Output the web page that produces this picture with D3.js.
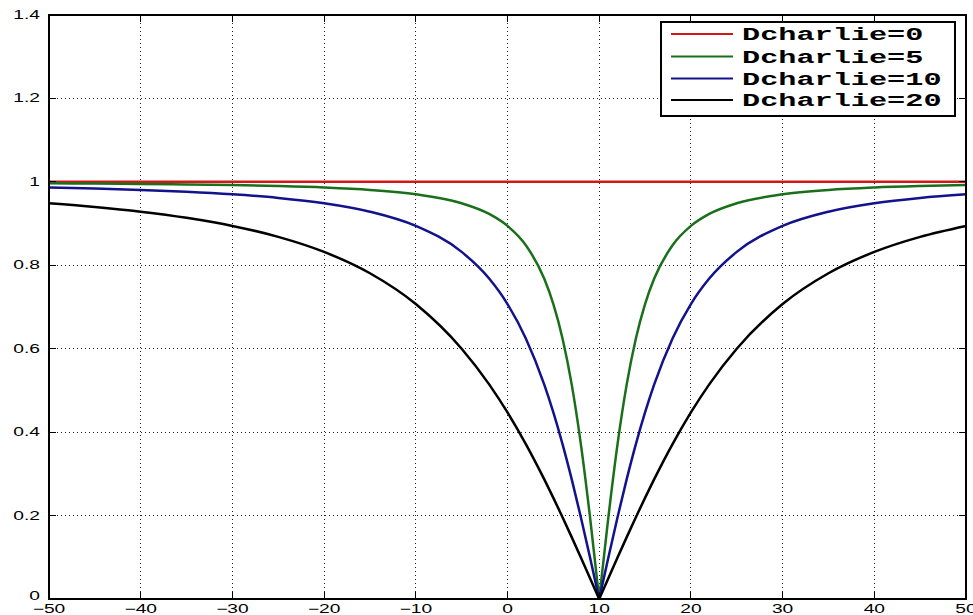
<!DOCTYPE html>
<html><head><meta charset="utf-8">
<script src="https://cdn.jsdelivr.net/npm/d3@7"></script>
<style>body{margin:0;background:#fff}svg{display:block}</style>
</head><body><svg id="c" width="973" height="615"></svg>
<script>
const xValues = [-50,-45,-40,-35,-30,-25,-20,-15,-10,-5,-2,0,2,4,5,6,7,8,9,10,11,12,13,14,15,16,18,20,22,25,30,35,40,45,50];
const dcharlie0 = xValues.map(() => 1);
const dcharlie5 = [0.9965,0.9959,0.9950,0.9939,0.9923,0.9899,0.9864,0.9806,0.9701,0.9487,0.9231,0.8944,0.8480,0.7682,0.7071,0.6247,0.5145,0.3714,0.1961,0,0.1961,0.3714,0.5145,0.6247,0.7071,0.7682,0.8480,0.8944,0.9231,0.9487,0.9701,0.9806,0.9864,0.9899,0.9923];
const dcharlie10 = [0.9864,0.9839,0.9806,0.9762,0.9701,0.9615,0.9487,0.9285,0.8944,0.8321,0.7682,0.7071,0.6247,0.5145,0.4472,0.3714,0.2873,0.1961,0.0995,0,0.0995,0.1961,0.2873,0.3714,0.4472,0.5145,0.6247,0.7071,0.7682,0.8321,0.8944,0.9285,0.9487,0.9615,0.9701];
const dcharlie20 = [0.9487,0.9398,0.9285,0.9138,0.8944,0.8682,0.8321,0.7809,0.7071,0.6000,0.5145,0.4472,0.3714,0.2873,0.2425,0.1961,0.1483,0.0995,0.0499,0,0.0499,0.0995,0.1483,0.1961,0.2425,0.2873,0.3714,0.4472,0.5145,0.6000,0.7071,0.7809,0.8321,0.8682,0.8944];
const seriesNames = ["Dcharlie=0","Dcharlie=5","Dcharlie=10","Dcharlie=20"];
const seriesColors = ["#d01818","#1a701a","#12128c","#000000"];
const xTicks = [-50,-40,-30,-20,-10,0,10,20,30,40,50];
const yTicks = [0,0.2,0.4,0.6,0.8,1,1.2,1.4];
const yTickLabels = ["0","0.2","0.4","0.6","0.8","1","1.2","1.4"];

const series = [dcharlie0, dcharlie5, dcharlie10, dcharlie20];
const W = 973, H = 615;
const m = {left: 49, right: 966, top: 15, bottom: 599};
const svg = d3.select("#c");
svg.append("rect").attr("width", W).attr("height", H).attr("fill", "#fff");
const x = d3.scaleLinear().domain([-50, 50]).range([m.left, m.right]);
const y = d3.scaleLinear().domain([0, 1.4]).range([m.bottom, m.top]);
const SX = 1.6;

// grid
const grid = svg.append("g");
xTicks.slice(1, -1).forEach(t => {
  grid.append("line").attr("x1", x(t)).attr("x2", x(t)).attr("y1", m.top).attr("y2", m.bottom)
    .attr("stroke", "#222").attr("stroke-width", 1).attr("stroke-dasharray", "1,3").attr("shape-rendering", "crispEdges");
});
yTicks.slice(1, -1).forEach(t => {
  grid.append("line").attr("y1", y(t)).attr("y2", y(t)).attr("x1", m.left).attr("x2", m.right)
    .attr("stroke", "#222").attr("stroke-width", 1).attr("stroke-dasharray", "1,3").attr("shape-rendering", "crispEdges");
});

// curves: split at the minimum for sharp tip
const line = d3.line().x(d => x(d[0])).y(d => y(d[1])).curve(d3.curveMonotoneX);
const minIdx = xValues.indexOf(10);
series.forEach((vals, i) => {
  const pts = xValues.map((xv, k) => [xv, vals[k]]);
  const parts = i === 0 ? [pts] : [pts.slice(0, minIdx + 1), pts.slice(minIdx)];
  parts.forEach(p => {
    svg.append("path").attr("d", line(p)).attr("fill", "none")
      .attr("stroke", seriesColors[i]).attr("stroke-width", 2.5).attr("stroke-linejoin", "round");
  });
});

// axes with inward ticks (box)
const axes = svg.append("g");
const tl = 7;
axes.append("rect").attr("x", m.left).attr("y", m.top).attr("width", m.right - m.left).attr("height", m.bottom - m.top)
  .attr("fill", "none").attr("stroke", "#000").attr("stroke-width", 1.2).attr("shape-rendering", "crispEdges");
xTicks.forEach(t => {
  axes.append("line").attr("x1", x(t)).attr("x2", x(t)).attr("y1", m.bottom).attr("y2", m.bottom - tl).attr("stroke", "#000").attr("shape-rendering", "crispEdges");
  axes.append("line").attr("x1", x(t)).attr("x2", x(t)).attr("y1", m.top).attr("y2", m.top + tl).attr("stroke", "#000").attr("shape-rendering", "crispEdges");
  const g = axes.append("g").attr("transform", `translate(${x(t)},${m.bottom + 14})`);
  g.append("text").attr("transform", `scale(${SX},1)`).attr("text-anchor", "middle")
    .attr("font-family", "Liberation Sans, Arial, sans-serif").attr("font-size", 12).attr("fill", "#000")
    .text(t < 0 ? "\u2212" + Math.abs(t) : String(t));
});
yTicks.forEach((t, i) => {
  axes.append("line").attr("y1", y(t)).attr("y2", y(t)).attr("x1", m.left).attr("x2", m.left + tl).attr("stroke", "#000").attr("shape-rendering", "crispEdges");
  axes.append("line").attr("y1", y(t)).attr("y2", y(t)).attr("x1", m.right).attr("x2", m.right - tl).attr("stroke", "#000").attr("shape-rendering", "crispEdges");
  const g = axes.append("g").attr("transform", `translate(${m.left - 9},${y(t) + (i === 0 ? 1 : 4)})`);
  g.append("text").attr("transform", `scale(${SX},1)`).attr("text-anchor", "end")
    .attr("font-family", "Liberation Sans, Arial, sans-serif").attr("font-size", 12).attr("fill", "#000")
    .text(yTickLabels[i]);
});

// legend
const lg = svg.append("g");
lg.append("rect").attr("x", 661).attr("y", 22).attr("width", 294).attr("height", 94)
  .attr("fill", "#fff").attr("stroke", "#000").attr("stroke-width", 1.2).attr("shape-rendering", "crispEdges");
const rowY = [34, 56.5, 78.5, 100];
seriesNames.forEach((name, i) => {
  lg.append("line").attr("x1", 671).attr("x2", 733).attr("y1", rowY[i]).attr("y2", rowY[i])
    .attr("stroke", seriesColors[i]).attr("stroke-width", 2);
  const g = lg.append("g").attr("transform", `translate(742,${rowY[i] + 6})`);
  g.append("text").attr("transform", "scale(1.68,1)")
    .attr("font-family", "Liberation Mono, Courier New, monospace").attr("font-weight", "bold")
    .attr("font-size", 18).attr("fill", "#000").text(name);
});
</script></body></html>
